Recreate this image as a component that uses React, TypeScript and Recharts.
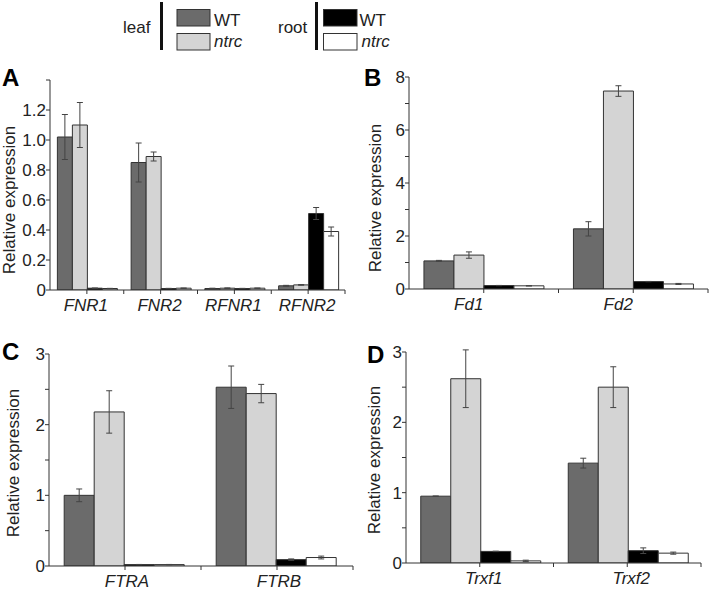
import React from 'react';
import { BarChart, Bar, XAxis, YAxis, ErrorBar, Label } from 'recharts';

const FONT = '"Liberation Sans", Arial, Helvetica, sans-serif';
const INK = '#222';
const C_LEAF_WT = '#6b6b6b';
const C_LEAF_NTRC = '#d4d4d4';
const C_ROOT_WT = '#000000';
const C_ROOT_NTRC = '#ffffff';

// ---- Panel A ----
const genesA = ['FNR1', 'FNR2', 'RFNR1', 'RFNR2'];
const leafWtA = [1.02, 0.85, 0.01, 0.028];
const leafWtErrA = [0.15, 0.13, 0.002, 0.003];
const leafNtrcA = [1.1, 0.89, 0.012, 0.034];
const leafNtrcErrA = [0.15, 0.03, 0.002, 0.002];
const rootWtA = [0.012, 0.01, 0.01, 0.51];
const rootWtErrA = [0.001, 0.001, 0.001, 0.04];
const rootNtrcA = [0.01, 0.012, 0.012, 0.39];
const rootNtrcErrA = [0.001, 0.001, 0.001, 0.03];
const ticksA = [0, 0.2, 0.4, 0.6, 0.8, 1.0, 1.2, 1.4];

// ---- Panel B ----
const genesB = ['Fd1', 'Fd2'];
const leafWtB = [1.06, 2.27];
const leafWtErrB = [0.02, 0.27];
const leafNtrcB = [1.28, 7.47];
const leafNtrcErrB = [0.12, 0.2];
const rootWtB = [0.13, 0.28];
const rootWtErrB = [0.005, 0.005];
const rootNtrcB = [0.12, 0.19];
const rootNtrcErrB = [0.005, 0.02];
const ticksB = [0, 1, 2, 3, 4, 5, 6, 7, 8];

// ---- Panel C ----
const genesC = ['FTRA', 'FTRB'];
const leafWtC = [1.0, 2.53];
const leafWtErrC = [0.09, 0.3];
const leafNtrcC = [2.18, 2.44];
const leafNtrcErrC = [0.3, 0.13];
const rootWtC = [0.02, 0.09];
const rootWtErrC = [0.002, 0.01];
const rootNtrcC = [0.02, 0.12];
const rootNtrcErrC = [0.002, 0.02];
const ticksC = [0, 0.5, 1, 1.5, 2, 2.5, 3];

// ---- Panel D ----
const genesD = ['Trxf1', 'Trxf2'];
const leafWtD = [0.95, 1.42];
const leafWtErrD = [0.002, 0.07];
const leafNtrcD = [2.62, 2.5];
const leafNtrcErrD = [0.41, 0.29];
const rootWtD = [0.165, 0.175];
const rootWtErrD = [0.003, 0.04];
const rootNtrcD = [0.03, 0.14];
const rootNtrcErrD = [0.01, 0.015];
const ticksD = [0, 0.5, 1, 1.5, 2, 2.5, 3];

function rows(
  genes: string[],
  lw: number[], lwe: number[],
  ln: number[], lne: number[],
  rw: number[], rwe: number[],
  rn: number[], rne: number[]
) {
  return genes.map((g, i) => ({
    gene: g,
    leafWT: lw[i], leafWTErr: lwe[i],
    leafNtrc: ln[i], leafNtrcErr: lne[i],
    rootWT: rw[i], rootWTErr: rwe[i],
    rootNtrc: rn[i], rootNtrcErr: rne[i],
  }));
}

const fmtA = (v: number) => (v === 0 ? '0' : v >= 1.35 ? '' : v.toFixed(1));
const fmtEven = (v: number) => (v % 2 === 0 ? String(v) : '');
const fmtInt = (v: number) => (Number.isInteger(v) ? String(v) : '');

const TICK_SIZE = 4;
const TICK_MARGIN = 5;

const XTick = (props: any) => {
  const { x, y, payload, half, shift } = props;
  const axisY = y - TICK_SIZE - TICK_MARGIN;
  return (
    <g>
      <line x1={x + half} x2={x + half} y1={axisY} y2={axisY + TICK_SIZE} stroke="#333" strokeWidth={1} />
      <text
        x={x + shift}
        y={y}
        dy="0.71em"
        textAnchor="middle"
        fontStyle="italic"
        fontSize={17}
        fill={INK}
        fontFamily={FONT}
      >
        {payload.value}
      </text>
    </g>
  );
};

type PanelCfg = {
  left: number; top: number; width: number; height: number;
  margin: { top: number; right: number; bottom: number; left: number };
  yw: number; xh: number; labelShift: number;
  domain: [number, number]; ticks: number[]; fmt: (v: number) => string;
  letter: string; letterX: number; letterY: number;
  titleX: number; titleY: number;
  data: any[];
};

const panels: PanelCfg[] = [
  {
    left: 0, top: 60, width: 360, height: 260,
    margin: { top: 20, right: 15, bottom: 0, left: 0 }, yw: 50, xh: 30, labelShift: -1,
    domain: [0, 1.4], ticks: ticksA, fmt: fmtA,
    letter: 'A', letterX: 2, letterY: 26, titleX: 9.5, titleY: 140,
    data: rows(genesA, leafWtA, leafWtErrA, leafNtrcA, leafNtrcErrA, rootWtA, rootWtErrA, rootNtrcA, rootNtrcErrA),
  },
  {
    left: 360, top: 60, width: 351, height: 260,
    margin: { top: 17, right: 3, bottom: 0, left: 0 }, yw: 49, xh: 31, labelShift: -15,
    domain: [0, 8], ticks: ticksB, fmt: fmtEven,
    letter: 'B', letterX: 4, letterY: 26, titleX: 15, titleY: 138,
    data: rows(genesB, leafWtB, leafWtErrB, leafNtrcB, leafNtrcErrB, rootWtB, rootWtErrB, rootNtrcB, rootNtrcErrB),
  },
  {
    left: 0, top: 320, width: 360, height: 270,
    margin: { top: 34, right: 7, bottom: 0, left: 0 }, yw: 49, xh: 24, labelShift: 2,
    domain: [0, 3], ticks: ticksC, fmt: fmtInt,
    letter: 'C', letterX: 2, letterY: 40, titleX: 13.3, titleY: 143,
    data: rows(genesC, leafWtC, leafWtErrC, leafNtrcC, leafNtrcErrC, rootWtC, rootWtErrC, rootNtrcC, rootNtrcErrC),
  },
  {
    left: 360, top: 320, width: 351, height: 270,
    margin: { top: 32, right: 10, bottom: 0, left: 0 }, yw: 46, xh: 27, labelShift: 4,
    domain: [0, 3], ticks: ticksD, fmt: fmtInt,
    letter: 'D', letterX: 7, letterY: 43, titleX: 14.5, titleY: 140,
    data: rows(genesD, leafWtD, leafWtErrD, leafNtrcD, leafNtrcErrD, rootWtD, rootWtErrD, rootNtrcD, rootNtrcErrD),
  },
];

const series = [
  { key: 'leafWT', fill: C_LEAF_WT },
  { key: 'leafNtrc', fill: C_LEAF_NTRC },
  { key: 'rootWT', fill: C_ROOT_WT },
  { key: 'rootNtrc', fill: C_ROOT_NTRC },
];

function Panel({ cfg }: { cfg: PanelCfg }) {
  const plotW = cfg.width - cfg.margin.left - cfg.margin.right - cfg.yw;
  const half = plotW / (2 * cfg.data.length);
  const titleContent = () => (
    <g>
      <text
        x={cfg.letterX}
        y={cfg.letterY}
        fontSize={24}
        fontWeight="bold"
        fill="#000"
        fontFamily={FONT}
      >
        {cfg.letter}
      </text>
      <text
        x={cfg.titleX}
        y={cfg.titleY}
        transform={`rotate(-90, ${cfg.titleX}, ${cfg.titleY})`}
        textAnchor="middle"
        dominantBaseline="central"
        fontSize={17}
        fill={INK}
        fontFamily={FONT}
      >
        Relative expression
      </text>
    </g>
  );
  return (
    <div style={{ position: 'absolute', left: cfg.left, top: cfg.top, width: cfg.width, height: cfg.height }}>
      <BarChart
        width={cfg.width}
        height={cfg.height}
        data={cfg.data}
        margin={cfg.margin}
        barCategoryGap="10%"
        barGap={0}
      >
        <XAxis
          dataKey="gene"
          height={cfg.xh}
          interval={0}
          axisLine={{ stroke: '#333', strokeWidth: 1 }}
          tickLine={{ stroke: '#333', strokeWidth: 1 }}
          tickSize={TICK_SIZE}
          tickMargin={TICK_MARGIN}
          tick={(p: any) => <XTick {...p} half={half} shift={cfg.labelShift} />}
        />
        <YAxis
          width={cfg.yw}
          type="number"
          domain={cfg.domain}
          ticks={cfg.ticks}
          interval={0}
          allowDataOverflow
          tickFormatter={cfg.fmt}
          axisLine={{ stroke: '#333', strokeWidth: 1 }}
          tickLine={{ stroke: '#333', strokeWidth: 1 }}
          tickSize={TICK_SIZE}
          tickMargin={0}
          tick={{ fontSize: 17, fill: INK, fontFamily: FONT }}
        >
          <Label content={titleContent} />
        </YAxis>
        {series.map((s) => (
          <Bar
            key={s.key}
            dataKey={s.key}
            fill={s.fill}
            stroke="#333"
            strokeWidth={1}
            isAnimationActive={false}
          >
            <ErrorBar dataKey={s.key + 'Err'} width={3} stroke="#444" strokeWidth={1} />
          </Bar>
        ))}
      </BarChart>
    </div>
  );
}

function LegendBox() {
  const t = { fontSize: 17, fill: INK, fontFamily: FONT } as const;
  return (
    <svg width={711} height={60} style={{ position: 'absolute', left: 0, top: 0 }}>
      <text x={123} y={32.5} {...t}>leaf</text>
      <rect x={160} y={2} width={3} height={48} fill="#111" />
      <rect x={177} y={9.5} width={33} height={16.5} fill={C_LEAF_WT} stroke="#333" />
      <text x={214} y={25.5} {...t}>WT</text>
      <rect x={177} y={33.5} width={33} height={16.5} fill={C_LEAF_NTRC} stroke="#333" />
      <text x={214} y={47} fontStyle="italic" {...t}>ntrc</text>

      <text x={278} y={32.5} {...t}>root</text>
      <rect x={315} y={2} width={3} height={48} fill="#111" />
      <rect x={323.5} y={9.5} width={33.5} height={16.5} fill={C_ROOT_WT} stroke="#333" />
      <text x={359.5} y={25.5} {...t}>WT</text>
      <rect x={323.5} y={33.5} width={33.5} height={16.5} fill={C_ROOT_NTRC} stroke="#333" />
      <text x={361.5} y={47} fontStyle="italic" {...t}>ntrc</text>
    </svg>
  );
}

export default function App() {
  return (
    <div style={{ position: 'absolute', left: 0, top: 0, width: 711, height: 590, background: '#fff', overflow: 'hidden' }}>
      <LegendBox />
      {panels.map((p) => (
        <Panel key={p.letter} cfg={p} />
      ))}
    </div>
  );
}
